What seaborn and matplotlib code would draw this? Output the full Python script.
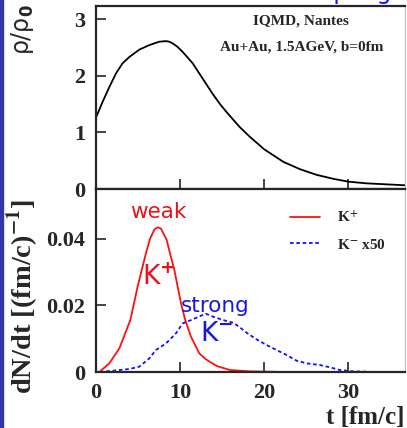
import matplotlib
matplotlib.use('Agg')
import matplotlib.pyplot as plt
from matplotlib.patches import Rectangle
import numpy as np
import pandas as pd
import seaborn as sns

# density rho/rho0 vs time (upper panel)
t_rho = [0.0, 0.79, 1.59, 2.38, 3.17, 3.97, 5.16, 6.35, 7.54, 8.33, 8.73, 9.13,
         9.70, 10.32, 11.51, 12.70, 13.89, 14.76, 15.48, 16.3, 17.14, 18.33,
         20.04, 22.3, 24.29, 26.27, 28.25, 30.04, 32.2, 36.9]
rho = [1.26, 1.54, 1.80, 2.04, 2.22, 2.33, 2.46, 2.54, 2.60, 2.61, 2.60, 2.57,
       2.51, 2.42, 2.22, 1.95, 1.68, 1.50, 1.37, 1.23, 1.09, 0.92, 0.70, 0.48,
       0.35, 0.25, 0.18, 0.13, 0.10, 0.065]

# K+ production rate
t_kp = [0.40, 1.59, 2.78, 4.09, 4.96, 5.95, 6.43, 6.94, 7.34, 7.74, 8.41, 8.81,
        9.33, 9.72, 10.12, 10.63, 11.31, 12.30, 13.10, 14.37, 15.95, 18.33, 22.5]
kplus = [0.0, 0.0026, 0.0071, 0.0156, 0.0257, 0.0357, 0.0400, 0.0428, 0.0435,
         0.0431, 0.0397, 0.0357, 0.0307, 0.0257, 0.0207, 0.0156, 0.0106, 0.0056,
         0.0038, 0.0018, 0.0006, 0.0002, 0.0]

# K- production rate (already x50)
t_km = [0.48, 3.97, 5.16, 6.35, 7.14, 8.33, 9.52, 10.32, 11.31, 12.38, 13.10,
        13.97, 15.16, 16.35, 17.14, 17.94, 19.13, 20.32, 21.51, 22.70, 23.89,
        25.08, 26.67, 27.86, 29.05, 30.63, 33.41]
kminus = [0.0, 0.0009, 0.0016, 0.0041, 0.0066, 0.0086, 0.0116, 0.0146, 0.0156,
          0.0168, 0.0175, 0.0166, 0.0156, 0.0148, 0.0134, 0.0118, 0.0098, 0.0081,
          0.0066, 0.0051, 0.0034, 0.0026, 0.0021, 0.0014, 0.0006, 0.0002, 0.0]

sns.set_style('ticks')
plt.rcParams['font.family'] = ['Liberation Serif', 'DejaVu Serif']
plt.rcParams['font.weight'] = 'bold'
plt.rcParams['mathtext.fontset'] = 'stix'

W, H = 407, 428
fig = plt.figure(figsize=(W / 100, H / 100), dpi=100)
ax1 = fig.add_axes([96 / W, 1 - 189 / H, 309 / W, 183 / H])
ax2 = fig.add_axes([96 / W, 1 - 372 / H, 309 / W, 183 / H])

df_rho = pd.DataFrame({'t': t_rho, 'rho': rho})
sns.lineplot(data=df_rho, x='t', y='rho', ax=ax1, color='black', lw=1.3)

df_kp = pd.DataFrame({'t': t_kp, 'v': kplus})
df_km = pd.DataFrame({'t': t_km, 'v': kminus})
sns.lineplot(data=df_kp, x='t', y='v', ax=ax2, color='#ff1010', lw=1.3, label='K$^{+}$')
sns.lineplot(data=df_km, x='t', y='v', ax=ax2, color='#1010ff', lw=1.3,
             linestyle=(0, (2, 1.5)), label='K$^{-}$ x50')

for ax in (ax1, ax2):
    ax.set_xlim(0, 36.8)
    ax.set_xticks([0, 10, 20, 30])
    ax.tick_params(direction='in', length=7, width=1.2, labelsize=16, pad=8)
    for s in ['left', 'bottom', 'top']:
        ax.spines[s].set_linewidth(1.6)
    ax.spines['right'].set_color('#bbbbbb')
    ax.spines['right'].set_linewidth(0.8)
    ax.set_xlabel('')
    ax.set_ylabel('')
    for lab in ax.get_xticklabels() + ax.get_yticklabels():
        lab.set_fontweight('bold')

ax1.set_ylim(0, 3.23)
ax1.set_yticks([0, 1, 2, 3])
ax1.set_yticklabels(['0', '1', '2', '3'])
ax1.tick_params(axis='x', labelbottom=False)

ax2.set_ylim(0, 0.055)
ax2.set_yticks([0, 0.02, 0.04])
ax2.set_yticklabels(['0', '0.02', '0.04'])
ax2.set_xticklabels(['0', '10', '20', '30'])

ax1.text(24.4, 2.96, 'IQMD, Nantes', ha='center', va='center', fontsize=11, fontweight='bold')
ax1.text(24.5, 2.50, 'Au+Au, 1.5AGeV, b=0fm', ha='center', va='center', fontsize=11,
         fontweight='bold')

leg = ax2.legend(loc='upper left', bbox_to_anchor=(0.602, 0.93), frameon=False,
                 borderpad=0, handlelength=2.0, handletextpad=1.1, labelspacing=0.8,
                 prop={'family': 'Liberation Serif', 'weight': 'bold', 'size': 11})

sans = ['DejaVu Sans']
ax2.text(7.4, 0.0482, 'weak', color='#e8141c', fontsize=15.5, family=sans,
         fontweight='normal', ha='center', va='center')
ax2.text(7.4, 0.0283, 'K$^{+}$', color='#e8141c', fontsize=19, family=sans,
         fontweight='normal', ha='center', va='center', math_fontfamily='dejavusans')
ax2.text(14.2, 0.0199, 'strong', color='#1818e0', fontsize=15.5, family=sans,
         fontweight='normal', ha='center', va='center')
ax2.text(14.4, 0.0114, 'K$^{-}$', color='#1818e0', fontsize=19, family=sans,
         fontweight='normal', ha='center', va='center', math_fontfamily='dejavusans')

# axis titles
fig.text(22 / W, 1 - 30 / H, 'ρ/ρ$_{\\mathbf{0}}$', rotation=90, ha='center', va='center',
         fontsize=17, family=sans, fontweight='normal', math_fontfamily='dejavusans')
fig.text(23 / W, 1 - 296 / H, 'dN/dt [(fm/c)$^{\\mathbf{-1}}$]', rotation=90,
         ha='center', va='center', fontsize=20.5, fontweight='bold')
fig.text(405 / W, 1 - 424 / H, 't [fm/c]', ha='right', va='baseline', fontsize=18,
         fontweight='bold')

# clipped slide title and left border of the slide
fig.text(392 / W, 1 + 1 / H, 'coupling', ha='right', va='baseline', fontsize=17,
         color='#1515e8', family=sans, fontweight='normal')
fig.patches.append(Rectangle((0, 0), 2.5 / W, 1, transform=fig.transFigure,
                             color='#3333aa', zorder=10))

fig.savefig('out.png', dpi=100)
